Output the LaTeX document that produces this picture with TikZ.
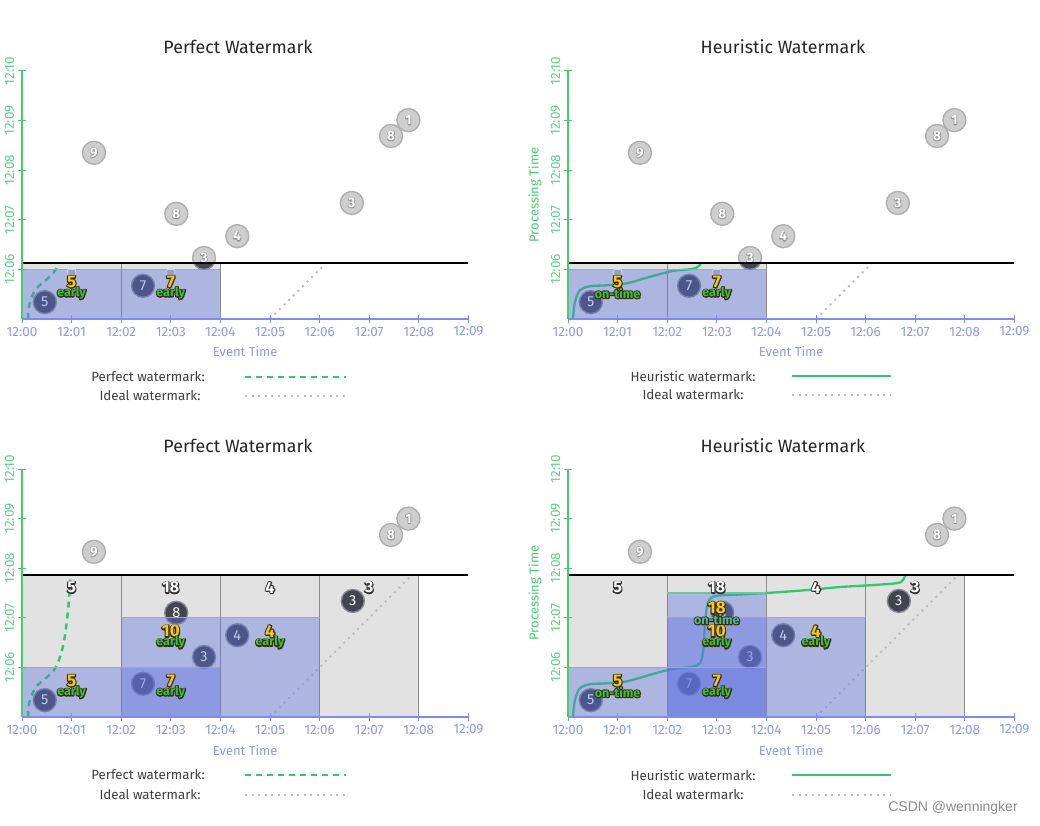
\documentclass[tikz,border=0pt]{standalone}
\usepackage{fontspec}
\setmainfont{Fira Sans}
\newfontfamily\csdnfont{Liberation Sans}
\usetikzlibrary{calc}

\definecolor{ygreen}{RGB}{70,205,110}
\definecolor{ylabc}{RGB}{95,212,135}
\definecolor{xblue}{RGB}{125,140,240}
\definecolor{xlabc}{RGB}{140,155,238}
\definecolor{paneblue}{RGB}{95,115,225}
\definecolor{panegrey}{RGB}{226,226,226}
\definecolor{panegreyline}{RGB}{140,140,140}
\definecolor{wmgreen}{RGB}{50,200,110}
\definecolor{topgreen}{RGB}{110,200,150}
\definecolor{obsfill}{RGB}{66,68,78}
\definecolor{obsring}{RGB}{135,138,150}
\definecolor{ghost}{RGB}{206,206,206}
\definecolor{ghostring}{RGB}{175,175,175}
\definecolor{cntyellow}{RGB}{248,200,20}
\definecolor{cntgreen}{RGB}{60,190,70}
\definecolor{cntteal}{RGB}{80,185,150}
\definecolor{idealgrey}{RGB}{190,190,190}
\definecolor{stubfill}{RGB}{150,160,205}
\definecolor{stubline}{RGB}{205,210,240}

\tikzset{
  yaxisline/.style={ygreen, line width=2pt},
  xaxisline/.style={xblue, line width=2pt},
  ticky/.style={ygreen, line width=1pt},
  tickx/.style={xblue, line width=1pt},
  ylab/.style={text=ylabc, font=\fontsize{13.5}{15}\selectfont, rotate=90, inner sep=0pt},
  xlab/.style={text=xlabc, font=\fontsize{13.5}{15}\selectfont, inner sep=0pt},
  axtitle/.style={inner sep=0pt, font=\fontsize{13}{15}\selectfont},
  ptitle/.style={inner sep=0pt, font=\fontsize{17.8}{20}\selectfont, text=black!85},
  greypane/.style={fill=panegrey, draw=panegreyline, line width=1pt},
  bluepane/.style={fill=paneblue, fill opacity=0.4},
  panetop/.style={topgreen, line width=1.2pt},
  nowline/.style={black, line width=2.5pt},
  perfectwm/.style={wmgreen, line width=2.5pt, dash pattern=on 6pt off 5pt},
  heurwm/.style={wmgreen, line width=2.3pt},
  idealwm/.style={idealgrey, line width=2pt, dash pattern=on 2pt off 4.5pt},
  evobs/.style={circle, minimum size=23pt, inner sep=0pt, fill=obsfill, draw=obsring, line width=1.4pt, text=white, font=\fontsize{14.5}{14.5}\selectfont},
  evghost/.style={circle, minimum size=23pt, inner sep=0pt, fill=ghost, draw=ghostring, line width=1.4pt},
  legtxt/.style={inner sep=0pt, font=\fontsize{13.3}{15}\selectfont, text=black!75},
  stubbox/.style={fill=stubfill, draw=stubline, line width=0.8pt, rounded corners=1pt, minimum width=8pt, minimum height=6pt, inner sep=0pt},
}

% outlined text: stroke-only copy (PDF render mode 1) under the filled text
\newcommand{\olt}[3]{\rlap{\special{pdf:literal 1 Tr #1 RG #2 w 1 j}#3\special{pdf:literal 0 Tr}}#3}
% #1 coord, #2 fill colour, #3 stroke rgb, #4 stroke width, #5 font, #6 text
\newcommand{\otxt}[6]{\node[text=#2,font=#5,inner sep=0pt] at (#1) {\olt{#3}{#4}{#6}};}
\newcommand{\ghostev}[3]{\node[evghost] at (#1,#2) {};\otxt{#1,#2}{white}{0.58 0.58 0.58}{1.4}{\bfseries\fontsize{13.5}{13.5}\selectfont}{#3}}
\newcommand{\obsev}[3]{\node[evobs] at (#1,#2) {#3};}
\newcommand{\cnt}[5]{%
  \otxt{#1,#2}{cntyellow}{0.22 0.18 0.06}{2.3}{\bfseries\fontsize{17}{17}\selectfont}{#3}%
  \otxt{#1,#2-0.23}{#5}{0.22 0.18 0.06}{2.1}{\bfseries\fontsize{12.5}{12.5}\selectfont}{#4}}
\newcommand{\gcnt}[3]{\otxt{#1,#2}{white}{0.2 0.2 0.2}{2.2}{\bfseries\fontsize{16}{16}\selectfont}{#3}}
\newcommand{\myaxes}{%
  \draw[xaxisline] (0,0) -- (9,0);
  \foreach \k in {0,...,9}{\draw[tickx] ([yshift=-4pt]\k,0) -- ([yshift=4pt]\k,0);
    \node[xlab] at ([yshift=-12.5pt]\k,0) {12:0\k};}
  \draw[yaxisline] (0,0) -- (0,5);
  \foreach \k/\l in {1/06,2/07,3/08,4/09,5/10}{\draw[ticky] ([xshift=-4pt]0,\k) -- ([xshift=4pt]0,\k);
    \node[ylab] at ([xshift=-12.5pt]0,\k) {12:\l};}
  \node[axtitle, text=xlabc] at ([yshift=-33pt]4.5,0) {Event Time};}
\newcommand{\ptlabel}{\node[axtitle, text=ygreen, rotate=90] at ([xshift=-33pt]0,2.5) {Processing Time};}
\newcommand{\perfcurve}{\draw[perfectwm] plot[smooth, tension=0.6] coordinates {(0.12,0) (0.15,0.3) (0.28,0.6) (0.5,0.8) (0.68,1.0) (0.82,1.4) (0.9,1.9) (0.95,2.4) (0.98,2.95)};}
\newcommand{\heurcurve}{\draw[heurwm] plot[smooth, tension=0.55] coordinates {(0.1,0) (0.14,0.34) (0.24,0.58) (0.44,0.66) (0.79,0.68) (1.19,0.72) (1.65,0.85) (2.12,0.97) (2.5,1.01) (2.66,1.09) (2.72,1.29) (2.76,1.82) (2.8,2.22) (2.88,2.4) (3.06,2.45) (3.47,2.47) (4.01,2.5) (4.83,2.56) (5.48,2.62) (6.15,2.66) (6.63,2.7) (6.76,2.77) (6.83,2.95)};}
\newcommand{\topghosts}{%
  \ghostev{1.45}{3.35}{9}\ghostev{3.11}{2.12}{8}\ghostev{3.67}{1.23}{3}\ghostev{4.34}{1.67}{4}%
  \ghostev{6.65}{2.34}{3}\ghostev{7.44}{3.69}{8}\ghostev{7.79}{4.01}{1}%
  \begin{scope}\clip (3,0) rectangle (4.5,1.13); \node[evobs] at (3.67,1.23) {};\end{scope}}
\newcommand{\botbase}{%
  \draw[greypane] (0,0) rectangle (2,2.86); \draw[greypane] (2,0) rectangle (4,2.86);
  \draw[greypane] (4,0) rectangle (6,2.86); \draw[greypane] (6,0) rectangle (8,2.86);}
\newcommand{\botobs}{%
  \obsev{0.46}{0.34}{5}\obsev{2.44}{0.67}{7}\obsev{3.67}{1.21}{3}\obsev{4.34}{1.65}{4}%
  \obsev{3.11}{2.1}{8}\obsev{6.67}{2.34}{3}}
\newcommand{\botgrey}{\gcnt{1}{2.61}{5}\gcnt{3}{2.61}{18}\gcnt{5}{2.61}{4}\gcnt{7}{2.61}{3}%
  \ghostev{1.45}{3.33}{9}\ghostev{7.44}{3.67}{8}\ghostev{7.79}{4.0}{1}}

\begin{document}
\begin{tikzpicture}[x=1pt, y=-1pt]
\useasboundingbox[fill=white] (0,0) rectangle (1040,826);

% titles
\node[ptitle] (t1) at (238,47) {Perfect Watermark};
\node[ptitle] (t2) at (783,47) {Heuristic Watermark};
\node[ptitle] (t3) at (238,446) {Perfect Watermark};
\node[ptitle] (t4) at (783,446) {Heuristic Watermark};

% ---------- top-left ----------
\begin{scope}[shift={(22pt,-319pt)}, x=49.6pt, y=49.6pt]
  \draw[greypane] (0,0) rectangle (2,1.13); \draw[greypane] (2,0) rectangle (4,1.13);
  \begin{scope}\clip (0,0) rectangle (9,1.13);
    \perfcurve
    \draw[idealwm] (5,0) -- (6.3,1.3);
  \end{scope}
  \obsev{0.46}{0.34}{5}\obsev{2.44}{0.67}{7}
  \fill[bluepane] (0,0) rectangle (2,1);
  \fill[bluepane] (2,0) rectangle (4,1);
  \draw[panetop] (0,1) -- (4,1);
  \node[stubbox] at (1,0.94) {}; \node[stubbox] at (3,0.94) {};
  \cnt{1}{0.75}{5}{early}{cntgreen}
  \cnt{3}{0.75}{7}{early}{cntgreen}
  \topghosts
  \draw[nowline] (0,1.13) -- (9,1.13);
  \myaxes
\end{scope}

% ---------- top-right ----------
\begin{scope}[shift={(568pt,-319pt)}, x=49.6pt, y=49.6pt]
  \draw[greypane] (0,0) rectangle (2,1.13); \draw[greypane] (2,0) rectangle (4,1.13);
  \begin{scope}\clip (0,0) rectangle (9,1.13);
    \heurcurve
    \draw[idealwm] (5,0) -- (6.3,1.3);
  \end{scope}
  \obsev{0.46}{0.34}{5}\obsev{2.44}{0.67}{7}
  \fill[bluepane] (0,0) rectangle (2,1);
  \fill[bluepane] (2,0) rectangle (4,1);
  \draw[panetop] (0,1) -- (4,1);
  \node[stubbox] at (1,0.94) {}; \node[stubbox] at (3,0.94) {};
  \cnt{1}{0.75}{5}{on-time}{cntgreen}
  \cnt{3}{0.75}{7}{early}{cntgreen}
  \topghosts
  \draw[nowline] (0,1.13) -- (9,1.13);
  \myaxes
  \ptlabel
\end{scope}

% ---------- bottom-left ----------
\begin{scope}[shift={(22pt,-717pt)}, x=49.6pt, y=49.6pt]
  \botbase
  \begin{scope}\clip (0,0) rectangle (9,2.86);
    \perfcurve
    \draw[idealwm] (5,0) -- (8.1,3.1);
  \end{scope}
  \botobs
  \fill[bluepane] (0,0) rectangle (2,1);
  \fill[bluepane] (2,0) rectangle (4,1);
  \fill[bluepane] (2,0) rectangle (4,2);
  \fill[bluepane] (4,0) rectangle (6,2);
  \draw[panetop] (0,1) -- (4,1);
  \draw[panetop] (2,2) -- (6,2);
  \cnt{1}{0.73}{5}{early}{cntgreen}
  \cnt{3}{0.73}{7}{early}{cntgreen}
  \cnt{3}{1.73}{10}{early}{cntgreen}
  \cnt{5}{1.73}{4}{early}{cntgreen}
  \botgrey
  \draw[nowline] (0,2.86) -- (9,2.86);
  \myaxes
\end{scope}

% ---------- bottom-right ----------
\begin{scope}[shift={(568pt,-717pt)}, x=49.6pt, y=49.6pt]
  \botbase
  \begin{scope}\clip (0,0) rectangle (9,2.86);
    \heurcurve
    \draw[idealwm] (5,0) -- (8.1,3.1);
  \end{scope}
  \botobs
  \fill[bluepane] (0,0) rectangle (2,1);
  \fill[bluepane] (2,0) rectangle (4,1);
  \fill[bluepane] (2,0) rectangle (4,2);
  \fill[bluepane] (2,0) rectangle (4,2.5);
  \fill[bluepane] (4,0) rectangle (6,2);
  \draw[panetop] (0,1) -- (4,1);
  \draw[panetop] (2,2) -- (6,2);
  \draw[panetop] (2,2.5) -- (4,2.5);
  \cnt{1}{0.73}{5}{on-time}{cntgreen}
  \cnt{3}{0.73}{7}{early}{cntgreen}
  \cnt{3}{1.73}{10}{early}{cntgreen}
  \cnt{5}{1.73}{4}{early}{cntgreen}
  \cnt{3}{2.2}{18}{on-time}{cntteal}
  \botgrey
  \draw[nowline] (0,2.86) -- (9,2.86);
  \myaxes
  \ptlabel
\end{scope}

% ---------- legends ----------
\node[legtxt] (l1) at (148,377) {Perfect watermark:};
\draw[perfectwm] (245,377) -- (346,377);
\node[legtxt] (l2) at (150,396) {Ideal watermark:};
\draw[idealwm] (245,396) -- (346,396);
\node[legtxt] (l3) at (693,376) {Heuristic watermark:};
\draw[heurwm] (792,376) -- (891,376);
\node[legtxt] (l4) at (693,395) {Ideal watermark:};
\draw[idealwm] (792,395) -- (891,395);

\node[legtxt] (l5) at (148,775) {Perfect watermark:};
\draw[perfectwm] (245,775) -- (346,775);
\node[legtxt] (l6) at (150,795) {Ideal watermark:};
\draw[idealwm] (245,795) -- (346,795);
\node[legtxt] (l7) at (693,775) {Heuristic watermark:};
\draw[heurwm] (792,775) -- (891,775);
\node[legtxt] (l8) at (693,795) {Ideal watermark:};
\draw[idealwm] (792,795) -- (891,795);

\node[inner sep=0pt, text=black!45, font=\csdnfont\fontsize{14}{16}\selectfont] (csdn) at (953,808) {CSDN @wenningker};
\end{tikzpicture}
\end{document}
